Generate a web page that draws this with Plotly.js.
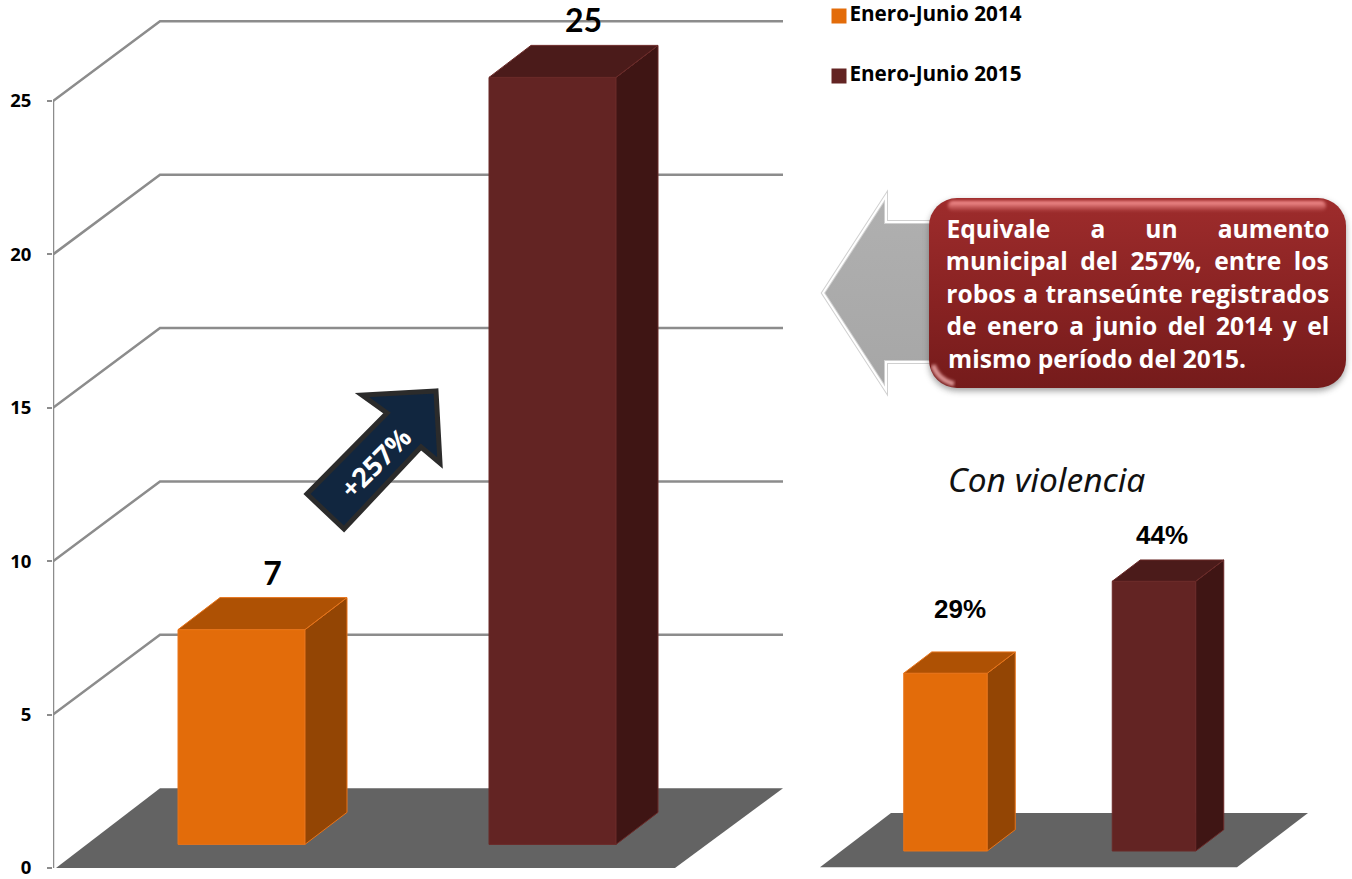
<!DOCTYPE html>
<html><head><meta charset="utf-8">
<script src="https://cdn.plot.ly/plotly-3.0.1.min.js"></script>
<style>html,body{margin:0;padding:0;background:#fff;overflow:hidden}#c{width:1352px;height:879px}</style>
</head><body><div id="c"></div>
<script>
// ---- data ----
const seriesNames = ['Enero-Junio 2014', 'Enero-Junio 2015'];
const totalRobos = [7, 25];
const conViolencia = [29, 44];
const tickValues = [0, 5, 10, 15, 20, 25];
const calloutLines = [
  'Equivale a un aumento',
  'municipal del 257%, entre los',
  'robos a transeúnte registrados',
  'de enero a junio del 2014 y el',
  'mismo período del 2015.'
];
const frontColors = ['#E36C0A', '#632423'];
const topColors = ['#AE5104', '#4B1B1A'];
const sideColors = ['#934504', '#3F1514'];
const edgeColors = ['#E8741A', '#6B2A28'];

// ---- geometry of the pseudo-3D scene ----
const W = 1352, H = 879, LEFT = 53;
const mainPx = 30.68, mainZeroPx = 868;
const insetPx = 6.13, insetZeroPx = 851;
const main = {centers: [241.5, 552.5], width: 127, base: 0.77, dx: 42, dy: 32 / mainPx, yaxis: 'y'};
const inset = {centers: [945.5, 1154], width: 83.5, base: 0, dx: 28, dy: 21.3 / insetPx, yaxis: 'y2'};
const FONT = 'Lato, Carlito, sans-serif';
const BOLD = 'Open Sans, sans-serif';
const backOffset = 2.6, backDx = 107;
const gridColor = '#8c8c8c';

const traces = [];
function addBars(g, values) {
  values.forEach((v, i) => {
    const c = g.centers[i], l = c - g.width / 2, r = c + g.width / 2, t = g.base + v, b = g.base;
    traces.push({type: 'bar', x: [c], y: [v], base: [b], width: [g.width], yaxis: g.yaxis,
      marker: {color: frontColors[i], line: {color: edgeColors[i], width: 1}},
      name: seriesNames[i], showlegend: false, hoverinfo: 'skip'});
    traces.push({type: 'scatter', mode: 'lines', fill: 'toself', yaxis: g.yaxis, hoverinfo: 'skip', showlegend: false,
      x: [r, r + g.dx, r + g.dx, r, r], y: [b, b + g.dy, t + g.dy, t, b],
      fillcolor: sideColors[i], line: {color: edgeColors[i], width: 1}});
    traces.push({type: 'scatter', mode: 'lines', fill: 'toself', yaxis: g.yaxis, hoverinfo: 'skip', showlegend: false,
      x: [l, l + g.dx, r + g.dx, r, l], y: [t, t + g.dy, t + g.dy, t, t],
      fillcolor: topColors[i], line: {color: edgeColors[i], width: 1}});
  });
}
addBars(main, totalRobos);
addBars(inset, conViolencia);

// axis line, from 0 to the last tick
traces.push({type: 'scatter', mode: 'lines', x: [LEFT, LEFT], y: [tickValues[0], tickValues[tickValues.length - 1]],
  line: {color: gridColor, width: 2.5}, cliponaxis: false, showlegend: false, hoverinfo: 'skip'});

// data labels
traces.push({type: 'scatter', mode: 'text', x: main.centers.map(c => c + 31), y: totalRobos.map(v => v + 2.5),
  text: totalRobos.map(String), textposition: 'middle center', cliponaxis: false, showlegend: false, hoverinfo: 'skip',
  textfont: {family: FONT, size: 32, color: '#000', weight: 700}});
traces.push({type: 'scatter', mode: 'text', yaxis: 'y2', x: [960, 1162], y: conViolencia.map((v, i) => (insetZeroPx - [611, 537][i]) / insetPx),
  text: conViolencia.map(v => v + '%'), textposition: 'middle center', cliponaxis: false, showlegend: false, hoverinfo: 'skip',
  textfont: {family: 'Liberation Sans, Arial, sans-serif', size: 26, color: '#000', weight: 700}});

// legend entries
seriesNames.forEach((n, i) => {
  traces.push({type: 'scatter', mode: 'markers+text', yaxis: 'y3', x: [839], y: [[16, 76][i]], text: [n],
    textposition: 'middle right', cliponaxis: false, showlegend: false, hoverinfo: 'skip',
    marker: {symbol: 'square', size: 15, color: frontColors[i]},
    textfont: {family: BOLD, size: 20.7, color: '#000', weight: 700}});
});

// ---- shapes ----
const shapes = [];
function poly(xs, ys, yref, fill, line, lw, layer) {
  const path = xs.map((x, i) => (i ? 'L' : 'M') + x + ',' + ys[i]).join(' ') + (fill ? ' Z' : '');
  shapes.push({type: 'path', path, xref: 'x', yref, fillcolor: fill || 'rgba(0,0,0,0)',
    line: {color: line || 'rgba(0,0,0,0)', width: lw || 0}, layer: layer || 'below'});
}
// floors
poly([56, 160, 783, 675], [0, backOffset, backOffset, 0], 'y', '#636363');
poly([820, 891, 1308, 1237], [-2.66, 6.2, 6.2, -2.66], 'y2', '#636363');
// wall gridlines
tickValues.slice(1).forEach(v => {
  poly([LEFT, LEFT + backDx, 783], [v, v + backOffset, v + backOffset], 'y', null, gridColor, 2.5);
});
// navy arrow
poly([436, 362, 387, 307, 344, 421, 440], [391, 395, 413, 494, 529, 447, 463], 'y3', '#11263F', '#2B2B2B', 5, 'above');

// ---- callout picture ----
const arrowPath = 'M13,113 L76,16 L76,42 L130,42 L130,182 L76,182 L76,210 Z';
const svg = `<svg xmlns="http://www.w3.org/2000/svg" width="542" height="230" viewBox="0 0 542 230">
<defs>
<linearGradient id="g" x1="0" y1="0" x2="0" y2="1"><stop offset="0" stop-color="#9E2C2C"/><stop offset="0.5" stop-color="#8A2323"/><stop offset="1" stop-color="#751B1B"/></linearGradient>
<linearGradient id="h" x1="0" y1="0" x2="0" y2="1"><stop offset="0" stop-color="#ff9a9a" stop-opacity="1"/><stop offset="1" stop-color="#f08a8a" stop-opacity="0.1"/></linearGradient>
<linearGradient id="a" x1="0" y1="0" x2="0" y2="1"><stop offset="0" stop-color="#b0b0b0"/><stop offset="1" stop-color="#a6a6a6"/></linearGradient>
<filter id="s" x="-5%" y="-5%" width="110%" height="115%"><feGaussianBlur stdDeviation="3"/></filter>
<filter id="b" x="-5%" y="-50%" width="110%" height="200%"><feGaussianBlur stdDeviation="1.5"/></filter>
</defs>
<path d="${arrowPath}" fill="url(#a)" stroke="#d0d0d0" stroke-width="4"/>
<path d="${arrowPath}" fill="none" stroke="#ffffff" stroke-width="2"/>
<rect x="119" y="21" width="417" height="190" rx="28" fill="#555" opacity="0.55" filter="url(#s)"/>
<rect x="119" y="18" width="417" height="190" rx="28" fill="url(#g)"/>
<rect x="138" y="21" width="378" height="10" rx="5" fill="url(#h)" filter="url(#b)"/>
<path d="M123,185 Q128,200 144,204" stroke="#f2b0b0" stroke-width="5" fill="none" opacity="0.8" filter="url(#b)"/>
</svg>`;
const images = [{source: 'data:image/svg+xml;charset=utf-8,' + encodeURIComponent(svg),
  xref: 'paper', yref: 'paper', x: (810 - LEFT) / (W - LEFT), y: 1 - 180 / H,
  sizex: 542 / (W - LEFT), sizey: 230 / H, sizing: 'stretch', xanchor: 'left', yanchor: 'top', layer: 'below'}];

// ---- annotations ----
const JUSTIFY_LEFT = 946, JUSTIFY_RIGHT = 1329;
const lineY = [228, 260, 293, 325, 358];
const annotations = calloutLines.map((t, i) => {
  const last = i === calloutLines.length - 1;
  return {text: t, xref: 'x', yref: 'y3', x: last ? JUSTIFY_LEFT : (JUSTIFY_LEFT + JUSTIFY_RIGHT) / 2, y: lineY[i],
    xanchor: last ? 'left' : 'center', yanchor: 'middle', showarrow: false,
    font: {family: BOLD, size: 24.6, color: '#fff', weight: 700}};
});
annotations.push({text: 'Con violencia', xref: 'x', yref: 'y3', x: 1046, y: 479, showarrow: false,
  font: {family: 'Noto Sans, sans-serif', size: 33.5, color: '#111', style: 'italic'}});
annotations.push({text: '+257%', xref: 'x', yref: 'y3', x: 375, y: 462, showarrow: false, textangle: -45,
  font: {family: BOLD, size: 27, color: '#fff', weight: 700}});

const layout = {
  width: W, height: H, margin: {l: LEFT, r: 0, t: 0, b: 0}, paper_bgcolor: '#fff', plot_bgcolor: 'rgba(0,0,0,0)',
  showlegend: false, barmode: 'overlay', hovermode: false,
  xaxis: {range: [LEFT, W], visible: false, fixedrange: true},
  yaxis: {range: [(mainZeroPx - H) / mainPx, mainZeroPx / mainPx], tickmode: 'array', tickvals: tickValues, ticktext: tickValues.map(String),
    showgrid: false, zeroline: false, showline: false, ticks: 'outside', ticklen: 5, tickwidth: 2, tickcolor: gridColor,
    ticklabeloverflow: 'allow', ticklabelstandoff: 12, tickfont: {family: BOLD, size: 18.5, color: '#000', weight: 700}, fixedrange: true},
  yaxis2: {range: [(insetZeroPx - H) / insetPx, insetZeroPx / insetPx], overlaying: 'y', visible: false, fixedrange: true},
  yaxis3: {range: [H, 0], overlaying: 'y', visible: false, fixedrange: true},
  shapes, images, annotations
};

Plotly.newPlot('c', traces, layout, {staticPlot: true, displayModeBar: false}).then(() => {
  const target = JUSTIFY_RIGHT - JUSTIFY_LEFT;
  document.querySelectorAll('.annotation-text').forEach(el => {
    const s = el.textContent;
    const i = calloutLines.indexOf(s);
    if (i < 0 || i === calloutLines.length - 1) return;
    const gaps = s.split(' ').length - 1;
    const extra = (target - el.getComputedTextLength()) / gaps;
    el.style.wordSpacing = extra + 'px';
  });
});
</script>
</body></html>
